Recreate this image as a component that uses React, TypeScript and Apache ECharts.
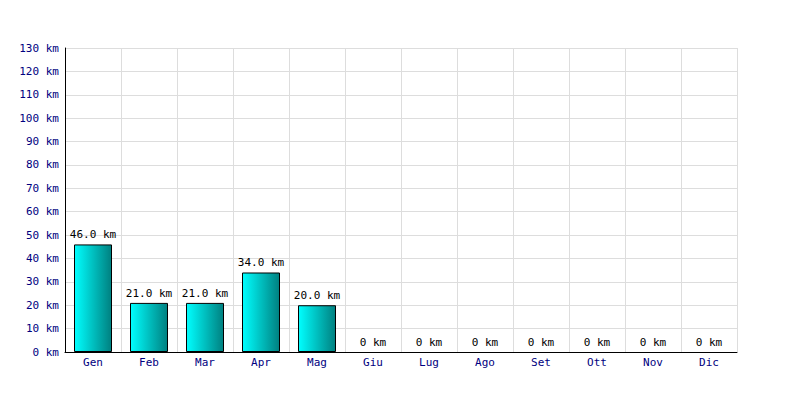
import React, { useEffect, useRef } from "react";
import * as echarts from "echarts";

const months = ["Gen", "Feb", "Mar", "Apr", "Mag", "Giu", "Lug", "Ago", "Set", "Ott", "Nov", "Dic"];
const distances = [46, 21, 21, 34, 20, 0, 0, 0, 0, 0, 0, 0];
const yMax = 130;
const yStep = 10;

export default function App() {
  const ref = useRef<HTMLDivElement>(null);
  useEffect(() => {
    const chart = echarts.init(ref.current!, null, { renderer: "svg" });
    const font = "'DejaVu Sans Mono', monospace";
    chart.setOption({
      animation: false,
      backgroundColor: "#ffffff",
      grid: { left: 65, right: 63, top: 48, bottom: 48 },
      xAxis: {
        type: "category",
        data: months,
        boundaryGap: true,
        axisLine: { show: true, lineStyle: { color: "#000", width: 1 } },
        axisTick: { show: false },
        axisLabel: { color: "#000080", fontFamily: font, fontSize: 11, margin: 5 },
        splitLine: { show: true, lineStyle: { color: "#dddddd", width: 1 } },
      },
      yAxis: {
        type: "value",
        min: 0,
        max: yMax,
        interval: yStep,
        axisLine: { show: true, lineStyle: { color: "#000", width: 1 } },
        axisTick: { show: false },
        axisLabel: {
          color: "#000080",
          fontFamily: font,
          fontSize: 11,
          margin: 6,
          formatter: (v: number) => `${v} km`,
        },
        splitLine: { show: true, lineStyle: { color: "#dddddd", width: 1 } },
      },
      series: [
        {
          type: "bar",
          data: distances.map((v) =>
            v === 0
              ? { value: v, itemStyle: { borderWidth: 0, color: "transparent", borderColor: "transparent" } }
              : { value: v }
          ),
          barWidth: 38,
          itemStyle: {
            color: new echarts.graphic.LinearGradient(0, 0, 1, 0, [
              { offset: 0, color: "#00ffff" },
              { offset: 1, color: "#008080" },
            ]),
            borderColor: "#000",
            borderWidth: 1,
          },
          label: {
            show: true,
            position: "top",
            distance: 4,
            color: "#000",
            textBorderWidth: 0,
            textBorderColor: "transparent",
            fontFamily: font,
            fontSize: 11,
            formatter: (p: any) => (p.value === 0 ? "0 km" : `${p.value.toFixed(1)} km`),
          },
        },
      ],
    });
    return () => chart.dispose();
  }, []);
  return <div ref={ref} style={{ width: 800, height: 400, position: "absolute", left: 0, top: 0 }} />;
}
